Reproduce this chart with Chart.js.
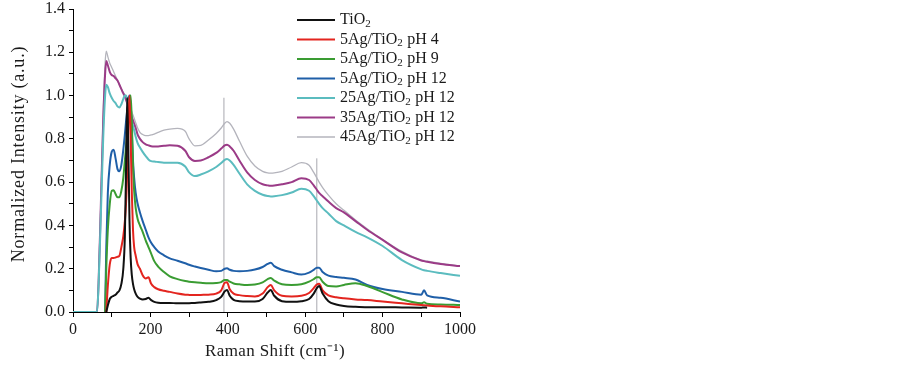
<!DOCTYPE html>
<html>
<head>
<meta charset="utf-8">
<script src="https://cdn.jsdelivr.net/npm/chart.js@4.4.1/dist/chart.umd.min.js"></script>
<style>
  html, body { margin: 0; padding: 0; background: #fff; }
  #wrap { width: 903px; height: 366px; position: relative; }
</style>
</head>
<body>
<div id="wrap"><canvas id="ramanChart"></canvas></div>
<script>
// Raman shift grid (cm-1) shared by all spectra
const ramanShift = [0, 62, 66, 72, 78, 83, 86, 90, 95, 100, 105, 110, 115, 120, 125, 130, 134, 137, 140, 143,
  146, 149, 152, 155, 158, 162, 167, 173, 180, 188, 195, 202, 210, 220, 235, 250, 270, 290, 300, 315,
  330, 350, 370, 383, 392, 398, 405, 415, 430, 450, 470, 490, 503, 511, 520, 540, 565, 590, 610, 622,
  630, 636, 645, 660, 680, 700, 730, 760, 800, 850, 900, 907, 915, 950, 1000];

const tio2 = [null, null, null, null, null, null, 0, 0.03, 0.06, 0.07, 0.075, 0.08, 0.09, 0.10, 0.13, 0.2, 0.35, 0.65, 0.99, 0.75,
  0.42, 0.25, 0.17, 0.13, 0.105, 0.085, 0.07, 0.062, 0.058, 0.06, 0.066, 0.055, 0.047, 0.043, 0.042, 0.042, 0.04, 0.04, 0.041, 0.042,
  0.044, 0.047, 0.055, 0.07, 0.095, 0.102, 0.075, 0.056, 0.05, 0.048, 0.048, 0.06, 0.09, 0.102, 0.075, 0.05, 0.047, 0.05, 0.06, 0.085,
  0.11, 0.12, 0.085, 0.05, 0.035, 0.028, 0.024, 0.022, 0.022, 0.021, 0.02, 0.021, 0.02, null, null];

const ag5ph4 = [null, null, null, null, null, null, 0, 0.12, 0.22, 0.25, 0.25, 0.252, 0.255, 0.26, 0.3, 0.35, 0.42, 0.5, 0.65, 0.88,
  1.0, 0.8, 0.55, 0.38, 0.3, 0.26, 0.22, 0.2, 0.17, 0.155, 0.16, 0.13, 0.115, 0.105, 0.098, 0.093, 0.085, 0.08, 0.079, 0.078,
  0.079, 0.08, 0.085, 0.1, 0.135, 0.138, 0.105, 0.085, 0.078, 0.074, 0.072, 0.085, 0.115, 0.125, 0.1, 0.075, 0.072, 0.075, 0.088, 0.11,
  0.127, 0.13, 0.1, 0.077, 0.068, 0.063, 0.058, 0.055, 0.048, 0.04, 0.032, 0.031, 0.03, 0.026, 0.022];

const ag5ph9 = [null, null, null, null, null, 0, 0.2, 0.38, 0.5, 0.56, 0.562, 0.545, 0.53, 0.53, 0.56, 0.62, 0.7, 0.76, 0.82, 0.9,
  0.98, 1.0, 0.88, 0.68, 0.56, 0.48, 0.43, 0.4, 0.37, 0.33, 0.3, 0.27, 0.235, 0.21, 0.185, 0.165, 0.152, 0.143, 0.14, 0.137,
  0.135, 0.133, 0.134, 0.138, 0.148, 0.148, 0.14, 0.132, 0.128, 0.125, 0.127, 0.137, 0.152, 0.157, 0.145, 0.128, 0.125, 0.128, 0.14, 0.152,
  0.16, 0.16, 0.14, 0.12, 0.118, 0.125, 0.133, 0.12, 0.092, 0.058, 0.04, 0.045, 0.038, 0.035, 0.032];

const ag5ph12 = [null, null, null, null, null, 0, 0.3, 0.55, 0.68, 0.74, 0.75, 0.71, 0.66, 0.65, 0.68, 0.75, 0.82, 0.88, 0.93, 0.98,
  1.0, 0.95, 0.83, 0.7, 0.62, 0.55, 0.5, 0.46, 0.42, 0.38, 0.345, 0.32, 0.3, 0.28, 0.262, 0.248, 0.237, 0.225, 0.218, 0.21,
  0.203, 0.195, 0.188, 0.19, 0.2, 0.202, 0.195, 0.19, 0.188, 0.19, 0.196, 0.208, 0.222, 0.228, 0.212, 0.195, 0.183, 0.173, 0.182, 0.195,
  0.205, 0.205, 0.185, 0.168, 0.162, 0.158, 0.15, 0.125, 0.106, 0.093, 0.08, 0.1, 0.077, 0.066, 0.048];

const ag25ph12 = [0, 0, 0.12, 0.45, 0.8, 1.0, 1.05, 1.04, 1.01, 0.99, 0.975, 0.965, 0.95, 0.945, 0.96, 0.985, 1.0, 1.0, 0.98, 0.95,
  0.93, 0.91, 0.88, 0.86, 0.84, 0.81, 0.78, 0.76, 0.74, 0.72, 0.705, 0.697, 0.695, 0.693, 0.69, 0.69, 0.69, 0.672, 0.645, 0.628,
  0.635, 0.65, 0.67, 0.688, 0.703, 0.707, 0.7, 0.68, 0.64, 0.59, 0.56, 0.542, 0.536, 0.534, 0.535, 0.54, 0.552, 0.57, 0.56, 0.535,
  0.515, 0.5, 0.48, 0.455, 0.42, 0.4, 0.37, 0.345, 0.305, 0.24, 0.197, 0.193, 0.19, 0.18, 0.167];

const ag35ph12 = [0, 0, 0.13, 0.5, 0.88, 1.1, 1.16, 1.14, 1.11, 1.095, 1.09, 1.08, 1.07, 1.05, 1.03, 1.01, 0.995, 0.98, 0.965, 0.95,
  0.935, 0.92, 0.9, 0.885, 0.87, 0.85, 0.82, 0.8, 0.785, 0.775, 0.77, 0.766, 0.765, 0.765, 0.768, 0.77, 0.768, 0.745, 0.715, 0.698,
  0.7, 0.715, 0.735, 0.755, 0.77, 0.773, 0.765, 0.745, 0.7, 0.645, 0.61, 0.59, 0.585, 0.583, 0.584, 0.59, 0.6, 0.618, 0.61, 0.585,
  0.565, 0.55, 0.535, 0.51, 0.48, 0.46, 0.42, 0.38, 0.333, 0.275, 0.238, 0.235, 0.232, 0.222, 0.212];

const ag45ph12 = [0, 0, 0.14, 0.52, 0.92, 1.15, 1.205, 1.18, 1.15, 1.13, 1.11, 1.09, 1.07, 1.05, 1.03, 1.015, 1.005, 0.995, 0.985, 0.97,
  0.955, 0.94, 0.925, 0.91, 0.895, 0.875, 0.85, 0.83, 0.82, 0.815, 0.815, 0.818, 0.822, 0.83, 0.84, 0.845, 0.848, 0.835, 0.8, 0.768,
  0.77, 0.795, 0.825, 0.85, 0.872, 0.88, 0.872, 0.845, 0.79, 0.72, 0.675, 0.65, 0.643, 0.642, 0.643, 0.65, 0.67, 0.69, 0.678, 0.645,
  0.62, 0.6, 0.575, 0.54, 0.5, 0.47, 0.425, 0.385, 0.335, 0.28, 0.24, 0.238, 0.235, 0.225, 0.212];

const seriesLabels = ['TiO₂', '5Ag/TiO₂ pH 4', '5Ag/TiO₂ pH 9', '5Ag/TiO₂ pH 12', '25Ag/TiO₂ pH 12', '35Ag/TiO₂ pH 12', '45Ag/TiO₂ pH 12'];
const seriesValues = [tio2, ag5ph4, ag5ph9, ag5ph12, ag25ph12, ag35ph12, ag45ph12];
const seriesColors = ['#111111', '#e3251f', '#3a9c32', '#1f5fa8', '#5bbcbf', '#9b3b87', '#b4b4bc'];
const seriesWidths = [2, 2, 2, 2, 2, 2, 1.3];

// vertical marker lines
const refLineShift = [390, 630];
const refLineTop = [0.99, 0.71];

const xTitle = 'Raman Shift (cm⁻¹)';
const yTitle = 'Normalized Intensity (a.u.)';

const serif = 'Liberation Serif, Times New Roman, serif';

const datasets = seriesValues.map((vals, k) => ({
  label: seriesLabels[k],
  data: ramanShift.map((x, i) => ({x: x, y: vals[i]})),
  borderColor: seriesColors[k],
  borderWidth: seriesWidths[k],
  pointRadius: 0,
  cubicInterpolationMode: 'monotone',
  fill: false
}));
refLineShift.forEach((x, k) => {
  datasets.push({
    label: 'ref' + k,
    data: [{x: x, y: 0}, {x: x, y: refLineTop[k]}],
    borderColor: '#a8a8b0',
    borderWidth: 1,
    pointRadius: 0,
    fill: false
  });
});

// legend + axis titles drawn by hand so they sit where the figure has them
const legendPlugin = {
  id: 'sketchLegend',
  afterDraw(chart) {
    const ctx = chart.ctx;
    ctx.save();
    seriesLabels.forEach((lab, k) => {
      const y = 20 + k * 19.5;
      ctx.strokeStyle = seriesColors[k];
      ctx.lineWidth = k === 6 ? 1.5 : 2.2;
      ctx.beginPath();
      ctx.moveTo(297, y);
      ctx.lineTo(335, y);
      ctx.stroke();
      ctx.fillStyle = '#1a1a1a';
      ctx.textBaseline = 'middle';
      ctx.textAlign = 'left';
      const parts = lab.split('₂');
      let x = 340;
      ctx.font = '16px ' + serif;
      ctx.fillText(parts[0], x, y);
      x += ctx.measureText(parts[0]).width;
      ctx.font = '11px ' + serif;
      ctx.fillText('2', x, y + 4);
      x += ctx.measureText('2').width + 0.5;
      ctx.font = '16px ' + serif;
      ctx.fillText(parts[1], x, y);
    });

    ctx.fillStyle = '#1a1a1a';
    ctx.textAlign = 'center';
    ctx.textBaseline = 'middle';
    ctx.font = '17px ' + serif;
    if ('letterSpacing' in ctx) ctx.letterSpacing = '0.4px';
    ctx.fillText(xTitle, 275, 352);

    ctx.translate(19, 154);
    ctx.rotate(-Math.PI / 2);
    ctx.font = '18px ' + serif;
    if ('letterSpacing' in ctx) ctx.letterSpacing = '0.8px';
    ctx.fillText(yTitle, 0, 0);
    ctx.restore();
  }
};

new Chart(document.getElementById('ramanChart'), {
  type: 'line',
  data: {datasets: datasets},
  options: {
    animation: false,
    responsive: true,
    maintainAspectRatio: false,
    layout: {padding: {top: 9, right: 443, left: 0, bottom: 0}},
    plugins: {legend: {display: false}, tooltip: {enabled: false}},
    scales: {
      x: {
        type: 'linear', min: 0, max: 1000,
        afterFit: s => { s.height = 54; },
        border: {color: '#000', width: 1},
        grid: {drawOnChartArea: false, tickLength: 5, color: '#000'},
        ticks: {
          stepSize: 100, autoSkip: false, maxRotation: 0, padding: 3,
          color: '#1a1a1a', font: {family: serif, size: 16},
          callback: v => (v % 200 === 0 ? v : '')
        }
      },
      y: {
        min: 0, max: 1.4,
        afterFit: s => { s.width = 73; s.paddingTop = 0; s.paddingBottom = 0; },
        border: {color: '#000', width: 1},
        grid: {drawOnChartArea: false, tickLength: 4, color: '#000'},
        ticks: {
          stepSize: 0.1, autoSkip: false, padding: 4,
          color: '#1a1a1a', font: {family: serif, size: 16},
          callback: v => (Math.round(v * 10) % 2 === 0 ? v.toFixed(1) : '')
        }
      }
    }
  },
  plugins: [legendPlugin]
});
</script>
</body>
</html>
